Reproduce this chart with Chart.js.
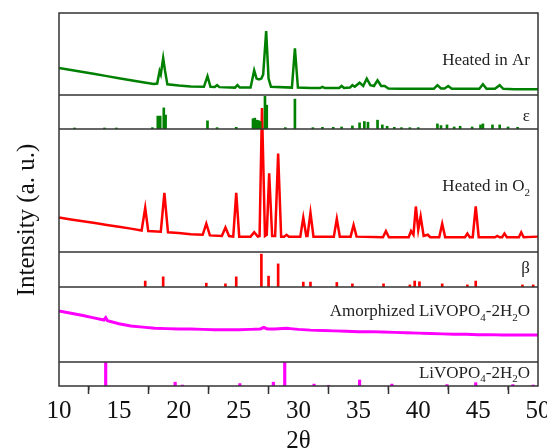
<!DOCTYPE html>
<html>
<head>
<meta charset="utf-8">
<script src="https://cdn.jsdelivr.net/npm/chart.js@4.4.1/dist/chart.umd.min.js"></script>
<style>
  html, body { margin: 0; padding: 0; background: #fff; }
  #wrap { width: 547px; height: 448px; position: relative; }
</style>
</head>
<body>
<div id="wrap"><canvas id="c" width="547" height="448"></canvas></div>
<script>
// ---------- DATA (2θ, relative intensity in % of each panel) ----------
const xTicks = [10, 15, 20, 25, 30, 35, 40, 45, 50];
const xMinorTicks = [12.5, 17.5, 22.5, 27.5, 32.5, 37.5, 42.5, 47.5];

const heatedAr = [[10,33],[11,30.5],[12,28],[13,25.5],[14,23],[15,20.5],[16,18],[17,15.5],[17.9,13.5],
 [18.2,14],[18.4,29],[18.5,25],[18.7,45],[18.85,30],[19.05,13],[20,11.5],[21,10.5],[22.1,10],[22.4,23],
 [22.65,10],[23.0,9.8],[23.2,12],[23.4,9.6],[24.7,9],[24.9,12],[25.1,9],[26.0,9],[26.3,30],[26.5,20],
 [26.7,19],[26.9,20],[27.05,25],[27.3,78],[27.5,20],[27.7,10],[29.45,9],[29.7,57],[29.95,9],[31.0,8.5],
 [31.8,8.5],[32.0,10],[32.2,8.5],[33.4,8.5],[33.6,11],[33.8,8.5],[34.3,9],[34.5,12],[34.7,10],[35.1,15],
 [35.4,11],[35.7,20],[36.0,12],[36.3,11],[36.6,18],[36.9,11],[37.2,11],[37.5,8],[38.5,7.5],[40,7.5],
 [41.3,7.5],[41.6,12],[41.9,8],[42.2,8],[42.5,11],[42.8,7.5],[44,7.5],[45.1,7.5],[45.4,13],[45.7,7.5],
 [46.4,7.5],[46.8,12],[47.1,7.5],[48,7],[50,7]];

const epsilonRef = [[11.3,3],[13.8,3],[14.8,3],[17.8,4],[18.25,38],[18.45,38],[18.75,62],[18.9,41],[22.4,24],
 [23.2,4],[24.8,5],[26.2,30],[26.35,32],[26.5,26],[26.65,25],[26.8,22],[27.2,96],[27.35,70],[28.9,4],[29.7,88],
 [31.2,4],[32.0,5],[32.9,5],[33.6,6],[34.5,9],[35.1,18],[35.5,22],[35.8,20],[36.6,26],[37.0,12],[37.4,8],
 [38.0,5],[38.6,4],[39.3,4],[40.0,4],[41.6,15],[41.9,10],[42.4,12],[43.0,6],[43.5,8],[44.5,6],[45.2,12],
 [45.4,15],[46.2,12],[46.8,12],[47.5,6],[48.3,5]];

const heatedO2 = [[10,28],[11,26.5],[12,25],[13,23.5],[14,22],[15,20.5],[16,19],[16.9,17.5],[17.2,36],[17.45,17],
 [18.5,16.5],[18.8,48],[19.1,16],[20,15.5],[21,14.5],[22.0,14],[22.3,23],[22.6,13.5],[23.6,13],[23.9,20],
 [24.2,13],[24.55,12.5],[24.8,48],[25.05,12.5],[26.0,12.5],[26.3,16],[26.6,12.5],[26.75,13],[26.95,117],
 [27.2,13],[27.35,14],[27.55,64],[27.8,13],[28.05,13],[28.3,80],[28.55,12.5],[28.8,12.5],[29.0,14],[29.2,12.5],
 [30.15,12.5],[30.4,28],[30.65,13],[30.75,13],[31.0,32],[31.25,12.5],[32.95,12.5],[33.2,27],[33.45,12.5],
 [34.35,12.5],[34.6,22],[34.85,12.5],[37.05,12],[37.3,17],[37.55,12],[39.2,12],[39.4,17],[39.6,14],[39.8,37],
 [40.0,18],[40.2,29],[40.45,13],[40.8,14],[41.0,12],[41.75,12],[42.0,23],[42.25,12],[43.9,12],[44.1,15],
 [44.3,12],[44.55,12],[44.8,37],[45.05,12],[46.4,12],[46.6,13],[46.8,12],[47.0,12],[47.2,15],[47.4,12],
 [48.4,12],[48.6,16],[48.8,12],[50,12.5]];

const betaRef = [[17.2,17],[18.7,29],[22.3,11],[23.9,9],[24.8,29],[26.9,94],[27.5,31],[28.3,66],[30.4,14],
 [31.0,14],[33.2,13],[34.5,9],[37.1,9],[39.3,6],[39.7,17],[40.1,15],[42.0,9],[44.1,6],[44.8,17],[48.7,6],[49.6,6]];

const amorphized = [[10,68],[11,65],[12,62],[13,58.5],[13.75,56],[13.9,59],[14.05,55],[15,51],[16,48],[17,46.5],
 [18,45],[19,44.5],[20,44],[21,44],[22,43.5],[23,43],[24,43],[25,43],[26,43.5],[26.8,44],[27.1,46],[27.4,44],
 [28,44],[29,45],[29.3,44.5],[30,43.5],[31,42.5],[32,42],[33,41.5],[34,41],[35,40.5],[36,40.5],[37,40],
 [38,39.5],[39,39],[40,38.5],[41,38],[42,37.5],[43,37],[44,37],[45,36.5],[46,36.5],[47,36],[48,36],[49,36],[50,36]];

const livopoRef = [[13.9,98],[19.7,16],[20.3,4],[25.1,10],[27.9,16],[28.85,98],[31.3,8],[32.5,3],[35.1,25],
 [37.8,8],[42.4,6],[44.8,14],[47.9,6],[49.6,4]];

const panelLabels = [
  {axis:'yAr',  y:41.5, parts:[['Heated in Ar',0]]},
  {axis:'yEps', y:38,   parts:[['ε',0]]},
  {axis:'yO2',  y:53,   parts:[['Heated in O',0],['2',1]]},
  {axis:'yBeta',y:54,   parts:[['β',0]]},
  {axis:'yAm',  y:67,   parts:[['Amorphized LiVOPO',0],['4',1],['-2H',0],['2',1],['O',0]]},
  {axis:'yLi',  y:54,   parts:[['LiVOPO',0],['4',1],['-2H',0],['2',1],['O',0]]}
];

// ---------- helpers ----------
const pts = a => a.map(p => ({x:p[0], y:p[1]}));
const SERIF = '"Liberation Serif", "DejaVu Serif", serif';
const GREEN = '#008000', RED = '#ff0000', MAG = '#ff00ff', FRAME = '#333333';

function yAxis(weight) {
  return { type:'linear', min:0, max:100, stack:'panels', stackWeight:weight, position:'left',
    display:true, grid:{display:false, drawTicks:false}, ticks:{display:false}, border:{display:false} };
}

const framePlugin = {
  id:'frame',
  afterDraw(chart) {
    const ctx = chart.ctx, ca = chart.chartArea;
    const xs = chart.scales.x;
    ctx.save();
    ctx.fillStyle = '#222';
    ctx.textBaseline = 'middle';
    panelLabels.forEach(l => {
      const sc = chart.scales[l.axis];
      const yy = sc.getPixelForValue(l.y);
      let total = 0;
      l.parts.forEach(p => { ctx.font = (p[1] ? '11px ' : '17px ') + SERIF; total += ctx.measureText(p[0]).width; });
      let x = ca.right - 8 - total;
      l.parts.forEach(p => {
        ctx.font = (p[1] ? '11px ' : '17px ') + SERIF;
        ctx.textAlign = 'left';
        ctx.fillText(p[0], x, p[1] ? yy + 6 : yy);
        x += ctx.measureText(p[0]).width;
      });
    });
    ctx.save();
    ctx.translate(27, 220);
    ctx.rotate(-Math.PI / 2);
    ctx.font = '25px ' + SERIF;
    ctx.textAlign = 'center';
    ctx.fillStyle = '#111';
    ctx.fillText('Intensity (a. u.)', 0, 0);
    ctx.restore();
    ctx.strokeStyle = FRAME;
    ctx.lineWidth = 1.5;
    ctx.strokeRect(ca.left, ca.top, ca.right - ca.left, ca.bottom - ca.top);
    ['yAr','yEps','yO2','yBeta','yAm'].forEach(id => {
      const sc = chart.scales[id];
      ctx.beginPath();
      ctx.moveTo(ca.left, sc.bottom);
      ctx.lineTo(ca.right, sc.bottom);
      ctx.stroke();
    });
    ctx.lineWidth = 1.2;
    xMinorTicks.forEach(v => {
      const px = xs.getPixelForValue(v);
      ctx.beginPath();
      ctx.moveTo(px, ca.bottom);
      ctx.lineTo(px, ca.bottom + 4);
      ctx.stroke();
    });
    ctx.restore();
  }
};

new Chart(document.getElementById('c'), {
  type:'line',
  data:{ datasets:[
    {type:'line', data:pts(heatedAr), yAxisID:'yAr', borderColor:GREEN, borderWidth:2.5, pointRadius:0, tension:0},
    {type:'bar', data:pts(epsilonRef), yAxisID:'yEps', backgroundColor:GREEN, barThickness:2, grouped:false},
    {type:'bar', data:pts(betaRef), yAxisID:'yBeta', backgroundColor:RED, barThickness:2, grouped:false},
    {type:'line', data:pts(heatedO2), yAxisID:'yO2', borderColor:RED, borderWidth:2.5, pointRadius:0, tension:0, clip:false},
    {type:'line', data:pts(amorphized), yAxisID:'yAm', borderColor:MAG, borderWidth:3, pointRadius:0, tension:0},
    {type:'bar', data:pts(livopoRef), yAxisID:'yLi', backgroundColor:MAG, barThickness:2.5, grouped:false}
  ]},
  options:{
    responsive:false, animation:false,
    layout:{ padding:{left:59, right:9, top:13, bottom:-6} },
    plugins:{ legend:{display:false}, tooltip:{enabled:false} },
    scales:{
      x:{ type:'linear', min:10, max:50, offset:false,
        afterBuildTicks: s => { s.ticks = xTicks.map(v => ({value:v})); },
        afterFit: s => { s.paddingRight = 0; s.paddingLeft = 0; },
        grid:{ drawOnChartArea:false, drawTicks:true, tickLength:8, tickColor:FRAME, tickWidth:1.5 },
        border:{ display:false },
        ticks:{ color:'#111', font:{family:SERIF, size:25, lineHeight:1}, padding:5, maxRotation:0, autoSkip:false },
        title:{ display:true, text:'2θ', color:'#111', font:{family:SERIF, size:25, lineHeight:1}, padding:{top:0, bottom:0} }
      },
      yLi: yAxis(24),
      yAm: yAxis(75),
      yBeta: yAxis(35),
      yO2: yAxis(123),
      yEps: yAxis(34),
      yAr: yAxis(82)
    }
  },
  plugins:[framePlugin]
});
</script>
</body>
</html>
